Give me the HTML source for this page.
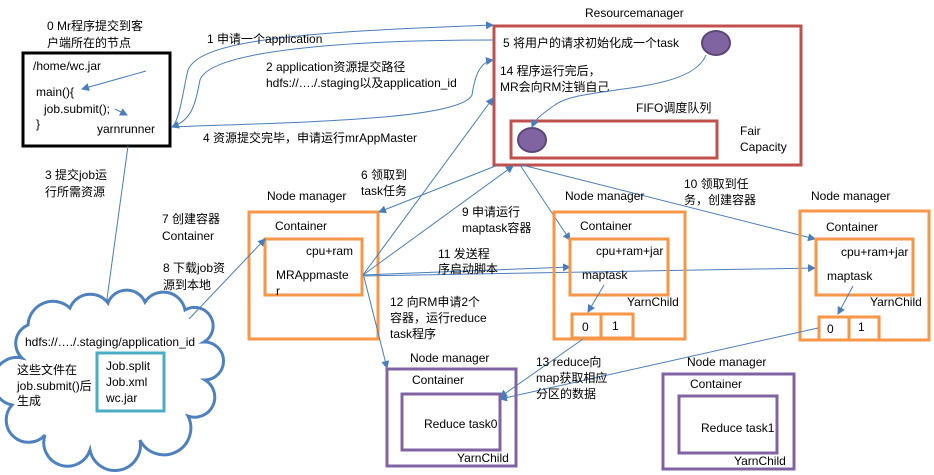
<!DOCTYPE html>
<html><head><meta charset="utf-8"><style>
html,body{margin:0;padding:0;background:#fff;}
svg{display:block;}
text{font-family:"Liberation Sans","Noto Sans CJK SC",sans-serif;font-size:12px;fill:#000;}
.l{stroke:#4a7ebb;stroke-width:1;fill:none;}
</style></head><body>
<svg width="934" height="475" viewBox="0 0 934 475" xmlns="http://www.w3.org/2000/svg">
<defs>
<marker id="a" markerWidth="8" markerHeight="8" refX="7" refY="4" orient="auto" markerUnits="userSpaceOnUse">
<path d="M0,0 L8,4 L0,8 Z" fill="#4a7ebb"/></marker>
</defs>

<rect x="23" y="53" width="147" height="93" fill="none" stroke="#000" stroke-width="3"/>
<text x="47" y="30">0 Mr程序提交到客</text>
<text x="47" y="47">户端所在的节点</text>
<text x="33" y="70">/home/wc.jar</text>
<text x="36" y="96">main(){</text>
<text x="44" y="113">job.submit();</text>
<text x="36" y="128">}</text>
<text x="97" y="133">yarnrunner</text>
<path class="l" d="M146,71 L82,89" marker-end="url(#a)"/>
<path class="l" d="M115,109 L127,115" marker-end="url(#a)"/>

<text x="585" y="17">Resourcemanager</text>
<rect x="494" y="26" width="307" height="139" fill="none" stroke="#c0504d" stroke-width="3"/>
<rect x="511" y="121" width="206" height="37" fill="none" stroke="#c0504d" stroke-width="3"/>
<text x="503" y="47">5 将用户的请求初始化成一个task</text>
<text x="500" y="75">14 程序运行完后，</text>
<text x="500" y="91">MR会向RM注销自己</text>
<text x="636" y="112">FIFO调度队列</text>
<text x="740" y="135">Fair</text>
<text x="740" y="151">Capacity</text>
<ellipse cx="716" cy="43" rx="14" ry="12" fill="#8064a2" stroke="#5c4776" stroke-width="2"/>
<ellipse cx="532" cy="140" rx="14" ry="12" fill="#8064a2" stroke="#5c4776" stroke-width="2"/>
<path class="l" d="M706,55 C690,95 580,85 555,105 C540,115 535,120 532,127" marker-end="url(#a)"/>

<path class="l" d="M172,127 C180,120 183,90 188,70 C200,40 300,32 493,25" marker-end="url(#a)"/>
<text x="207" y="43">1 申请一个application</text>
<path class="l" d="M493,40 C350,40 210,50 200,80 C195,105 192,120 172,127" marker-end="url(#a)"/>
<text x="266" y="71">2 application资源提交路径</text>
<text x="266" y="87">hdfs://…./.staging以及application_id</text>
<path class="l" d="M172,127 C300,122 460,120 472,95 C475,75 480,62 493,60" marker-end="url(#a)"/>
<text x="203" y="142">4 资源提交完毕，申请运行mrAppMaster</text>

<path class="l" d="M128,146 L106,306" marker-end="url(#a)"/>
<text x="45" y="179">3 提交job运</text>
<text x="45" y="196">行所需资源</text>

<path d="M22,358 A20,20 0 0 1 28,325 A25,25 0 0 1 70,308 A22,22 0 0 1 108,303 A20,20 0 0 1 145,302 A22,22 0 0 1 185,310 A18,18 0 0 1 204,342 A18,18 0 0 1 205,380 A20,20 0 0 1 188,416 A25,25 0 0 1 140,440 A25,25 0 0 1 90,450 A22,22 0 0 1 45,435 A18,18 0 0 1 12,405 A18,18 0 0 1 22,358 Z" fill="#fff" stroke="#4f81bd" stroke-width="3"/>
<text x="25" y="346">hdfs://…./.staging/application_id</text>
<rect x="97" y="353" width="67" height="58" fill="#fff" stroke="#4bacc6" stroke-width="3"/>
<text x="106" y="370">Job.split</text>
<text x="106" y="386">Job.xml</text>
<text x="106" y="402">wc.jar</text>
<text x="17" y="374">这些文件在</text>
<text x="17" y="390">job.submit()后</text>
<text x="17" y="405">生成</text>

<text x="267" y="200">Node manager</text>
<rect x="249" y="212" width="129" height="127" fill="none" stroke="#f79646" stroke-width="3"/>
<text x="275" y="230">Container</text>
<rect x="265" y="239" width="97" height="56" fill="none" stroke="#f79646" stroke-width="3"/>
<text x="306" y="255">cpu+ram</text>
<text x="276" y="279">MRAppmaste</text>
<text x="276" y="295">r</text>
<text x="162" y="223">7 创建容器</text>
<text x="162" y="240">Container</text>
<text x="163" y="272">8 下载job资</text>
<text x="163" y="289">源到本地</text>
<path class="l" d="M189,319 L265,239" marker-end="url(#a)"/>
<text x="361" y="179">6 领取到</text>
<text x="361" y="195">task任务</text>
<path class="l" d="M498,165 L379,212" marker-end="url(#a)"/>

<path class="l" d="M363,275 L493,98" marker-end="url(#a)"/>
<path class="l" d="M363,275 L513,166" marker-end="url(#a)"/>
<text x="462" y="216">9 申请运行</text>
<text x="462" y="232">maptask容器</text>
<path class="l" d="M363,275 L570,267" marker-end="url(#a)"/>
<path class="l" d="M363,276 L815,268" marker-end="url(#a)"/>
<text x="438" y="258">11 发送程</text>
<text x="438" y="273">序启动脚本</text>
<path class="l" d="M364,277 L387,368" marker-end="url(#a)"/>
<text x="390" y="306">12 向RM申请2个</text>
<text x="390" y="322">容器，运行reduce</text>
<text x="390" y="338">task程序</text>

<path class="l" d="M520,165 L570,240" marker-end="url(#a)"/>
<path class="l" d="M522,165 L815,239" marker-end="url(#a)"/>
<text x="684" y="188">10 领取到任</text>
<text x="684" y="204">务，创建容器</text>

<text x="565" y="200">Node manager</text>
<rect x="554" y="212" width="131" height="127" fill="none" stroke="#f79646" stroke-width="3"/>
<text x="580" y="230">Container</text>
<rect x="570" y="239" width="98" height="56" fill="none" stroke="#f79646" stroke-width="3"/>
<text x="596" y="255">cpu+ram+jar</text>
<text x="582" y="279">maptask</text>
<text x="627" y="306">YarnChild</text>
<rect x="572" y="314" width="29" height="24" fill="none" stroke="#f79646" stroke-width="3"/>
<rect x="601" y="314" width="32" height="24" fill="none" stroke="#f79646" stroke-width="3"/>
<text x="582" y="331">0</text>
<text x="612" y="330">1</text>
<path class="l" d="M604,285 L588,312" marker-end="url(#a)"/>

<text x="811" y="200">Node manager</text>
<rect x="800" y="211" width="129" height="129" fill="none" stroke="#f79646" stroke-width="3"/>
<text x="826" y="231">Container</text>
<rect x="816" y="239" width="97" height="56" fill="none" stroke="#f79646" stroke-width="3"/>
<text x="841" y="256">cpu+ram+jar</text>
<text x="827" y="280">maptask</text>
<text x="870" y="306">YarnChild</text>
<rect x="819" y="317" width="30" height="23" fill="none" stroke="#f79646" stroke-width="3"/>
<rect x="849" y="317" width="30" height="23" fill="none" stroke="#f79646" stroke-width="3"/>
<text x="827" y="333">0</text>
<text x="858" y="331">1</text>
<path class="l" d="M853,286 L838,314" marker-end="url(#a)"/>

<path class="l" d="M583,339 L500,397" marker-end="url(#a)"/>
<path class="l" d="M818,328 L500,399" marker-end="url(#a)"/>
<text x="536" y="366">13 reduce向</text>
<text x="536" y="382">map获取相应</text>
<text x="536" y="398">分区的数据</text>

<text x="410" y="362">Node manager</text>
<rect x="387" y="369" width="129" height="97" fill="none" stroke="#8064a2" stroke-width="3"/>
<text x="412" y="384">Container</text>
<rect x="402" y="394" width="98" height="56" fill="none" stroke="#8064a2" stroke-width="3"/>
<text x="424" y="428">Reduce task0</text>
<text x="457" y="462">YarnChild</text>

<text x="687" y="366">Node manager</text>
<rect x="663" y="374" width="131" height="95" fill="none" stroke="#8064a2" stroke-width="3"/>
<text x="690" y="388">Container</text>
<rect x="679" y="396" width="98" height="57" fill="none" stroke="#8064a2" stroke-width="3"/>
<text x="701" y="432">Reduce task1</text>
<text x="734" y="465">YarnChild</text>
</svg>
</body></html>
